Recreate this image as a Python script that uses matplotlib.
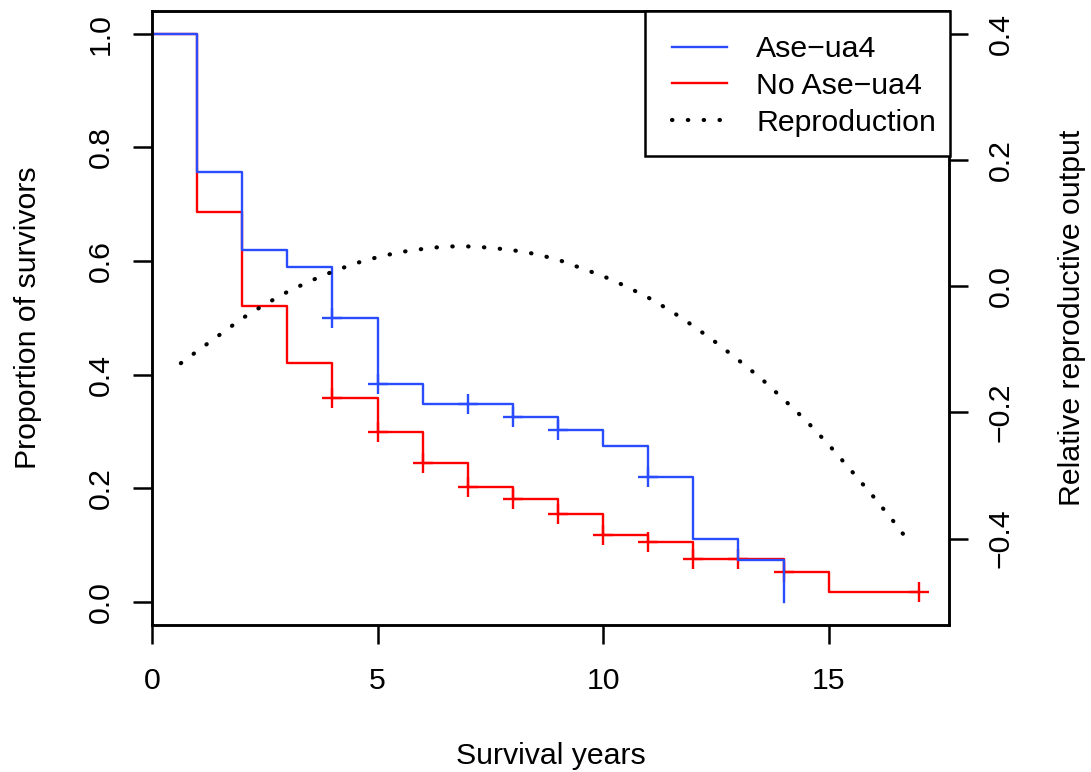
import matplotlib.pyplot as plt
from matplotlib.lines import Line2D
from matplotlib.patches import Rectangle

plt.rcParams['font.family'] = ['Liberation Sans', 'DejaVu Sans']
plt.rcParams['font.size'] = 21.8

# Kaplan-Meier steps
ase_times = [0, 1, 2, 3, 4, 5, 6, 8, 9, 10, 11, 12, 13, 14]
ase_surv = [1.0, 0.756, 0.619, 0.589, 0.499, 0.384, 0.349, 0.326, 0.302,
            0.274, 0.219, 0.110, 0.073, 0.0]
ase_censored = [4, 5, 7, 8, 9, 11]

no_times = [0, 1, 2, 3, 4, 5, 6, 7, 8, 9, 10, 11, 12, 14, 15, 17]
no_surv = [1.0, 0.686, 0.521, 0.421, 0.359, 0.299, 0.244, 0.202, 0.181,
           0.154, 0.118, 0.106, 0.075, 0.052, 0.017, 0.017]
no_censored = [4, 5, 6, 7, 8, 9, 10, 11, 12, 13, 14, 17]

# reproduction curve (right axis)
repro_years = [0.64, 1.0, 1.5, 2.0, 2.5, 3.0, 3.5, 4.0, 4.5, 5.0, 5.5, 6.0,
               6.5, 7.0, 7.5, 8.0, 8.5, 9.0, 9.5, 10.0, 10.5, 11.0, 11.5,
               12.0, 12.5, 13.0, 13.5, 14.0, 14.5, 15.0, 15.5, 16.0, 16.5, 16.78]
repro_output = [-0.122, -0.103, -0.077, -0.051, -0.029, -0.009, 0.008, 0.023,
                0.036, 0.046, 0.054, 0.059, 0.063, 0.063, 0.061, 0.057, 0.051,
                0.042, 0.029, 0.016, 0.0, -0.018, -0.039, -0.063, -0.089,
                -0.117, -0.146, -0.179, -0.213, -0.251, -0.292, -0.334,
                -0.378, -0.405]

BLUE = '#2a4cff'
RED = '#ff0000'
LW = 1.7
DOT_LW = 3.0
dotted = (0, (0.1, 3.7))


def surv_at(times, surv, t):
    idx = max(i for i, x in enumerate(times) if x <= t)
    return surv[idx]


W, H = 1091, 772
fig = plt.figure(figsize=(W / 100, H / 100), dpi=100)
left, right, top, bottom = 152, 949.5, 11, 624.5
ax = fig.add_axes([left / W, 1 - bottom / H, (right - left) / W, (bottom - top) / H])

for times, surv, cens, col in [(no_times, no_surv, no_censored, RED),
                               (ase_times, ase_surv, ase_censored, BLUE)]:
    ax.step(times, surv, where='post', color=col, lw=LW)
    ax.plot(cens, [surv_at(times, surv, t) for t in cens], ls='none',
            marker='+', ms=14.5, mew=LW, color=col)

ax.set_xlim(0, 17.68)
ax.set_ylim(-0.04, 1.04)
ax.set_xticks([0, 5, 10, 15])
ax.set_yticks([0.0, 0.2, 0.4, 0.6, 0.8, 1.0])
ax.set_yticklabels([f'{v:.1f}' for v in ax.get_yticks()], rotation=90, va='center')
ax.set_xlabel('Survival years', labelpad=34)
ax.set_ylabel('Proportion of survivors', labelpad=32)

ax2 = ax.twinx()
ax2.plot(repro_years, repro_output, color='black', lw=DOT_LW, ls=dotted,
         dash_capstyle='round')
ax2.set_ylim(-0.536, 0.436)
ax2.set_yticks([-0.4, -0.2, 0.0, 0.2, 0.4])
ax2.set_yticklabels([f'{v:.1f}'.replace('-', '\u2212') for v in ax2.get_yticks()],
                    rotation=90, va='center')
ax2.set_ylabel('Relative reproductive output', labelpad=31)

for a in (ax, ax2):
    for sp in a.spines.values():
        sp.set_linewidth(1.8)
    a.tick_params(direction='out', length=13.7, width=1.8, pad=13)
ax.tick_params(axis='x', pad=17)

# legend box in the R style: frame flush with the top-right corner,
# small right padding, content placed separately
frame = Rectangle((645 / W, 1 - 156 / H), (right - 645) / W, (156 - top) / H,
                  transform=fig.transFigure, facecolor='white', edgecolor='black',
                  lw=1.8, zorder=4.5, clip_on=False)
ax2.add_patch(frame)

handles = [Line2D([], [], color=BLUE, lw=LW),
           Line2D([], [], color=RED, lw=LW),
           Line2D([], [], color='black', lw=DOT_LW, ls=dotted, dash_capstyle='round')]
leg = ax2.legend(handles, ['Ase\u2212ua4', 'No Ase\u2212ua4', 'Reproduction'],
                 loc='upper right', bbox_to_anchor=(936 / W, 1 - 35.2 / H),
                 bbox_transform=fig.transFigure, borderaxespad=0, borderpad=0,
                 frameon=False, handlelength=1.83, handletextpad=0.95,
                 labelspacing=0.29)
leg.set_zorder(5)

fig.savefig('out.png', dpi=100)
